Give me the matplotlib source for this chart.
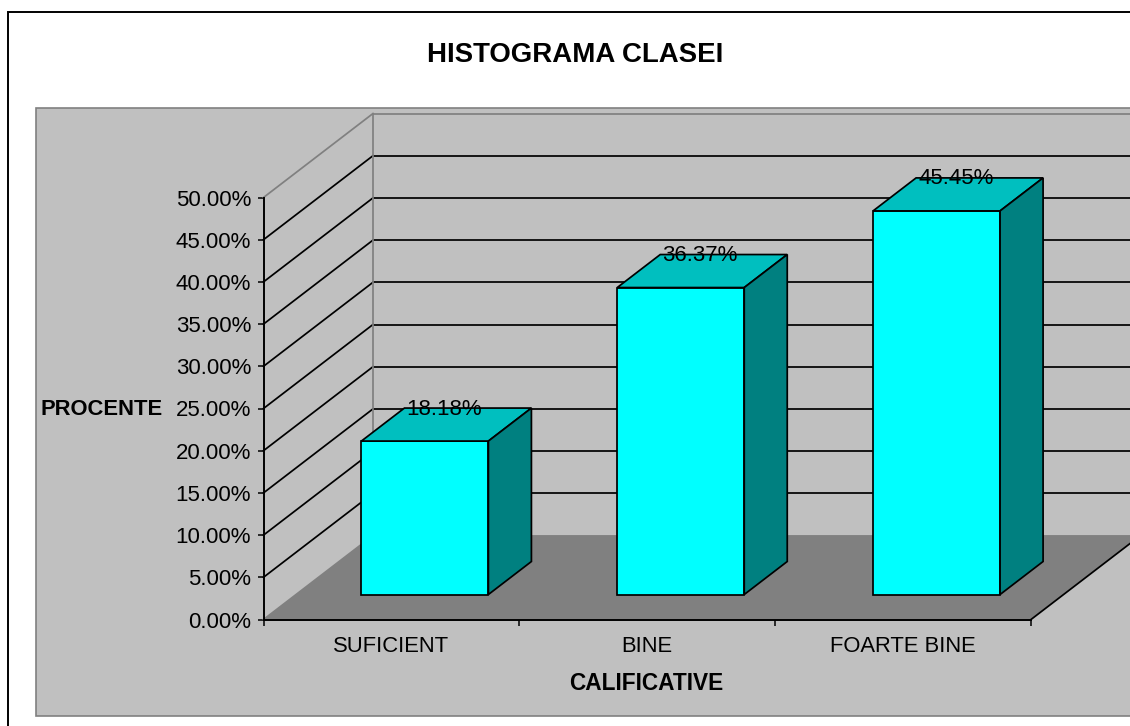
import matplotlib
matplotlib.use("Agg")
import matplotlib.pyplot as plt
from matplotlib.patches import Polygon, Rectangle

categories = ["SUFICIENT", "BINE", "FOARTE BINE"]
values = [18.18, 36.37, 45.45]
labels = ["18.18%", "36.37%", "45.45%"]
y_ticks = [0, 5, 10, 15, 20, 25, 30, 35, 40, 45, 50]

W, H = 1130, 726
plt.rcParams['font.family'] = ['Liberation Sans', 'DejaVu Sans']
fig = plt.figure(figsize=(W / 100, H / 100), dpi=100, facecolor='white')

# figure frame and plot-area background (pixel positions)
def fx(p): return p / W
def fy(p): return 1 - p / H

fig.add_artist(Rectangle((fx(8), fy(760)), fx(1200), 748 / H, transform=fig.transFigure,
                         fc='white', ec='black', lw=1.4, zorder=-2))
fig.add_artist(Rectangle((fx(35.5), fy(716)), fx(1200), (716 - 107.5) / H, transform=fig.transFigure,
                         fc='#C0C0C0', ec='#808080', lw=1.2, zorder=-1))

L, R, B, T = 263.5, 1031, 619.5, 197.5
ax = fig.add_axes([fx(L), fy(B), (R - L) / W, (B - T) / H])
ax.patch.set_visible(False)
ax.set_xlim(0, 3)
ax.set_ylim(0, 50)

ux = 3 / (R - L)      # data per pixel, x
uy = 50 / (B - T)     # data per pixel, y
dx, dy = 109.5 * ux, 84 * uy      # wall depth
bx, by = 33.5 * ux, 25 * uy       # bar front offset
bw = 127 * ux                     # bar width
ddx, ddy = 43 * ux, 33 * uy       # bar depth
LW = 1.25

# floor
ax.add_patch(Polygon([(0, 0), (3, 0), (3 + dx, dy), (dx, dy)], fc='#808080', ec='none',
                     clip_on=False, zorder=1))

# walls: grid lines
for t in y_ticks:
    col = '#808080' if t in (0, 50) else 'black'
    ax.plot([0, dx], [t, t + dy], color=col, lw=LW, clip_on=False, zorder=2)
    ax.plot([dx, 3 + dx], [t + dy, t + dy], color=col, lw=LW, clip_on=False, zorder=2)
ax.plot([dx, dx], [dy, 50 + dy], color='#808080', lw=LW, clip_on=False, zorder=2)
ax.plot([3, 3 + dx], [0, dy], color='black', lw=LW, clip_on=False, zorder=2)

# bars
for i, v in enumerate(values):
    x0 = i + 0.5 + bx - bw / 2
    x1 = x0 + bw
    y0, y1 = by, by + v
    ax.add_patch(Polygon([(x0, y0), (x1, y0), (x1, y1), (x0, y1)], fc='#00FFFF', ec='black',
                         lw=LW, clip_on=False, zorder=3, joinstyle='miter'))
    ax.add_patch(Polygon([(x0, y1), (x1, y1), (x1 + ddx, y1 + ddy), (x0 + ddx, y1 + ddy)],
                         fc='#00BFBF', ec='black', lw=LW, clip_on=False, zorder=3, joinstyle='miter'))
    ax.add_patch(Polygon([(x1, y0), (x1 + ddx, y0 + ddy), (x1 + ddx, y1 + ddy), (x1, y1)],
                         fc='#008080', ec='black', lw=LW, clip_on=False, zorder=3, joinstyle='miter'))
    ax.text(x0 + bw / 2 + 19.5 * ux, y1 + ddy - 1 * uy, labels[i], ha='center', va='center',
            fontsize=16.0, color='black', zorder=4, clip_on=False)

# axes
for s in ('top', 'right'):
    ax.spines[s].set_visible(False)
for s in ('left', 'bottom'):
    ax.spines[s].set_linewidth(1.4)
    ax.spines[s].set_zorder(5)
ax.set_yticks(y_ticks)
ax.set_yticklabels([f"{t:.2f}%" for t in y_ticks], fontsize=16.0)
ax.set_xticks([0, 1, 2, 3])
ax.set_xticklabels([])
ax.tick_params(axis='both', length=4.5, width=1.1, color='black', pad=4.5)
for i, c in enumerate(categories):
    ax.text(i + 0.5, -3.25, c, ha='center', va='center', fontsize=15.8, clip_on=False)

fig.text(fx(575), fy(55), "HISTOGRAMA CLASEI", ha='center', va='center', fontsize=19.9, fontweight='bold')
fig.text(fx(646.5), fy(684), "CALIFICATIVE", ha='center', va='center', fontsize=16.3, fontweight='bold')
fig.text(fx(102), fy(409.5), "PROCENTE", ha='center', va='center', fontsize=15.8, fontweight='bold')

fig.savefig("out.png", dpi=100)
